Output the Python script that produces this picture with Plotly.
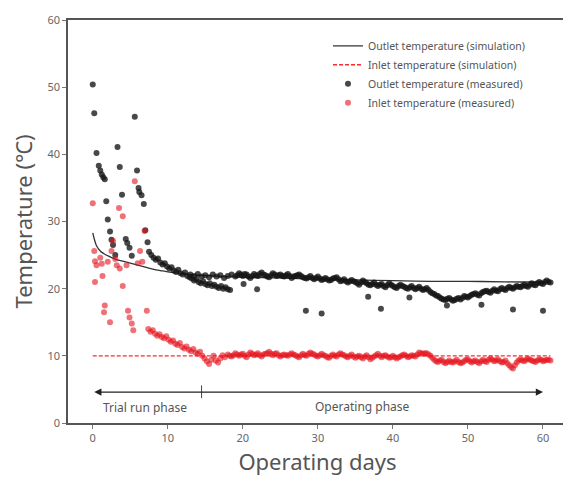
import plotly.graph_objects as go

# ---------------- data ----------------
# Simulated outlet temperature
sim_out_days = [0, 0.25, 0.5, 1, 1.5, 2, 3, 4, 5, 6, 7, 8, 9, 10, 12, 14, 16, 20, 25, 30, 35, 40, 45, 50, 55, 61]
sim_out_temp = [28.3, 27.2, 26.4, 25.6, 25.2, 24.9, 24.4, 24.1, 23.8, 23.5, 23.2, 22.9, 22.7, 22.5, 22.2, 22.0, 21.9, 21.7, 21.6, 21.4, 21.3, 21.2, 21.1, 21.1, 21.0, 21.0]

# Simulated inlet temperature
sim_in_days = [0, 61]
sim_in_temp = [10.0, 10.0]

# Measured outlet temperature (readings)
out_days = [0.0, 0.2, 0.5, 0.8, 1.0, 1.2, 1.4, 1.6, 1.8, 2.0, 2.3, 2.5, 2.7, 3.0, 3.3, 3.6, 3.9, 4.4, 4.6, 4.9, 5.2, 5.6, 5.9, 6.1, 6.2, 6.5, 6.8, 7.0, 7.3, 7.5,
            7.8, 8.1, 8.4, 8.7, 9.0, 9.3, 9.6, 9.9, 10.2, 10.5, 10.8, 11.1, 11.4, 11.7, 12.0, 12.3, 12.6, 12.9, 13.2, 13.5, 13.8, 14.1, 14.4, 14.7,
            15.0, 15.3, 15.6, 15.9, 16.2, 16.5, 16.8, 17.1, 17.4, 17.7, 18.0, 18.3,
            13.0, 13.5, 14.0, 14.5, 15.0, 15.5, 16.0, 16.5, 17.0, 17.5, 18.0, 18.5,
            19.0, 19.5, 20.0, 20.5, 21.0, 21.5, 22.0, 22.5, 23.0, 23.5, 24.0, 24.5, 25.0, 25.5, 26.0, 26.5, 27.0, 27.5, 28.0, 28.5,
            29.0, 29.5, 30.0, 30.5, 31.0, 31.5, 32.0, 32.5, 33.0, 33.5, 34.0, 34.5, 35.0, 35.5, 36.0, 36.5, 37.0, 37.5, 38.0, 38.5,
            39.0, 39.5, 40.0, 40.5, 41.0, 41.5, 42.0, 42.5, 43.0, 43.5, 44.0, 44.5, 45.0, 45.5, 46.0, 46.5, 47.0, 47.5, 48.0, 48.5,
            49.0, 49.5, 50.0, 50.5, 51.0, 51.5, 52.0, 52.5, 53.0, 53.5, 54.0, 54.5, 55.0, 55.5, 56.0, 56.5, 57.0, 57.5, 58.0, 58.5,
            59.0, 59.5, 60.0, 60.5, 61.0,
            20.1, 21.9, 28.4, 30.5, 36.7, 38.4, 42.2, 47.2, 51.8, 56.0, 60.0]
out_temp = [50.4, 46.1, 40.2, 38.3, 37.6, 37.0, 36.6, 36.3, 33.0, 30.3, 28.5, 27.3, 26.5, 25.0, 41.1, 38.1, 34.0, 27.4, 26.8, 26.1, 24.9, 45.6, 37.6, 35.0, 34.4, 33.9, 32.6, 28.7, 26.9, 25.5,
            25.0, 24.6, 24.3, 24.5, 23.9, 23.6, 23.8, 23.3, 23.0, 23.2, 22.7, 22.5, 22.8, 22.3, 22.1, 22.4, 21.9, 21.7, 21.5, 21.2, 21.4, 21.0, 20.8, 21.1,
            20.7, 20.5, 20.8, 20.4, 20.6, 20.3, 20.1, 20.4, 20.0, 20.2, 19.9, 19.8,
            22.1, 21.9, 22.2, 21.8, 22.0, 21.7, 22.1, 21.8, 22.0, 21.6, 21.9, 22.1,
            21.8, 22.3, 21.9, 22.1, 21.6, 22.2, 21.9, 22.4, 22.0, 21.7, 22.3, 21.9, 22.1, 21.8, 22.2, 21.6, 21.9, 22.1, 21.7, 21.5,
            21.9, 21.4, 21.8, 21.3, 21.6, 21.2, 21.5, 21.7, 21.1, 21.4, 20.9, 21.3, 21.0, 20.6, 21.2, 20.8, 20.5, 20.9, 20.4, 20.7,
            20.2, 20.8, 20.4, 20.1, 20.6, 20.3, 20.0, 20.4, 19.9, 20.3, 19.8, 20.1, 19.5, 19.2, 18.9, 18.5, 18.3, 18.6, 18.2, 18.5,
            18.4, 18.9, 18.7, 19.1, 19.3, 19.0, 19.5, 19.7, 19.4, 19.9, 19.6, 20.1, 19.8, 20.3, 20.0, 20.4, 20.2, 20.6, 20.3, 20.8,
            20.5, 21.0, 20.7, 21.2, 20.9,
            20.7, 19.9, 16.7, 16.3, 18.8, 17.0, 18.7, 17.5, 17.6, 16.9, 16.7]

# Measured outlet temperature (intermediate readings)
out_days_b = [19.25, 19.75, 20.25, 20.75, 21.25, 21.75, 22.25, 22.75, 23.25, 23.75, 24.25, 24.75, 25.25, 25.75, 26.25, 26.75, 27.25, 27.75, 28.25, 28.75,
              29.25, 29.75, 30.25, 30.75, 31.25, 31.75, 32.25, 32.75, 33.25, 33.75, 34.25, 34.75, 35.25, 35.75, 36.25, 36.75, 37.25, 37.75, 38.25, 38.75,
              39.25, 39.75, 40.25, 40.75, 41.25, 41.75, 42.25, 42.75, 43.25, 43.75, 44.25, 44.75, 45.25, 45.75, 46.25, 46.75, 47.25, 47.75, 48.25, 48.75,
              49.25, 49.75, 50.25, 50.75, 51.25, 51.75, 52.25, 52.75, 53.25, 53.75, 54.25, 54.75, 55.25, 55.75, 56.25, 56.75, 57.25, 57.75, 58.25, 58.75,
              59.25, 59.75, 60.25, 60.75]
out_temp_b = [22.0, 22.1, 22.2, 21.8, 21.9, 22.0, 22.2, 22.1, 21.8, 22.0, 22.1, 22.0, 21.9, 22.0, 21.9, 21.8, 22.0, 21.9, 21.6, 21.7,
              21.6, 21.6, 21.5, 21.4, 21.4, 21.3, 21.6, 21.4, 21.2, 21.1, 21.1, 21.1, 20.8, 20.9, 21.0, 20.6, 20.7, 20.6, 20.6, 20.4,
              20.5, 20.6, 20.2, 20.4, 20.4, 20.1, 20.2, 20.1, 20.1, 20.0, 19.9, 19.8, 19.3, 19.0, 18.7, 18.4, 18.5, 18.4, 18.3, 18.6,
              18.6, 18.8, 18.9, 19.2, 19.1, 19.3, 19.6, 19.5, 19.7, 19.7, 19.9, 19.9, 20.1, 20.1, 20.2, 20.3, 20.4, 20.4, 20.6, 20.6,
              20.8, 20.8, 21.0, 21.0]

# Measured inlet temperature (readings)
in_days = [0.0, 0.2, 0.3, 0.3, 0.5, 1.0, 1.2, 1.3, 1.5, 1.6, 2.0, 2.3, 2.5, 2.7, 3.0, 3.2, 3.5, 3.6, 4.0, 4.0, 4.5, 4.7, 4.9, 5.2, 5.4, 5.6, 6.0, 6.3, 6.6, 6.9, 7.2,
           7.4, 7.7, 8.0, 8.3, 8.6, 8.9, 9.2, 9.5, 9.8, 10.1, 10.4, 10.7, 11.0, 11.3, 11.6, 11.9, 12.2, 12.5, 12.8, 13.1, 13.4, 13.7, 14.0, 14.3,
           14.6, 14.9, 15.2, 15.5, 15.8, 16.1, 16.4, 16.7, 17.0, 17.3, 17.6,
           18.0, 18.5, 19.0, 19.5, 20.0, 20.5, 21.0, 21.5, 22.0, 22.5, 23.0, 23.5, 24.0, 24.5, 25.0, 25.5, 26.0, 26.5, 27.0, 27.5,
           28.0, 28.5, 29.0, 29.5, 30.0, 30.5, 31.0, 31.5, 32.0, 32.5, 33.0, 33.5, 34.0, 34.5, 35.0, 35.5, 36.0, 36.5, 37.0, 37.5,
           38.0, 38.5, 39.0, 39.5, 40.0, 40.5, 41.0, 41.5, 42.0, 42.5, 43.0, 43.5, 44.0, 44.5, 45.0, 45.5, 46.0, 46.5, 47.0, 47.5,
           48.0, 48.5, 49.0, 49.5, 50.0, 50.5, 51.0, 51.5, 52.0, 52.5, 53.0, 53.5, 54.0, 54.5, 55.0, 55.5, 56.0, 56.5, 57.0, 57.5,
           58.0, 58.5, 59.0, 59.5, 60.0, 60.5, 61.0]
in_temp = [32.7, 25.6, 24.1, 21.0, 23.5, 24.6, 23.7, 21.9, 16.5, 17.5, 24.0, 15.0, 25.6, 27.1, 24.4, 23.5, 32.0, 23.0, 30.8, 20.4, 23.5, 16.7, 15.7, 14.8, 13.8, 36.0, 23.8, 25.6, 24.0, 28.6, 16.7,
           14.0, 13.6, 13.8, 13.3, 13.0, 13.2, 12.8, 12.6, 12.9, 12.4, 12.1, 12.3, 11.8, 11.6, 11.9, 11.3, 11.1, 11.4, 10.9, 10.7, 11.0, 10.5, 10.3, 10.6,
           10.0, 9.6, 9.2, 8.8, 9.4, 10.0, 9.3, 9.0, 9.6, 10.1, 9.8,
           10.2, 9.9, 10.4, 10.0, 10.3, 9.8, 10.5, 10.1, 10.4, 9.9, 10.3, 10.6, 10.1, 10.4, 9.9, 10.2, 10.0, 10.4, 10.1, 9.8,
           10.3, 10.0, 10.5, 10.2, 9.9, 10.3, 10.0, 9.7, 10.2, 9.9, 10.4, 10.1, 9.8, 10.2, 9.7, 10.0, 9.6, 10.1, 9.5, 9.9,
           10.3, 9.8, 10.1, 9.7, 10.0, 9.6, 9.9, 10.2, 9.8, 10.1, 9.9, 10.5, 10.3, 10.4, 10.0, 9.4, 9.1, 9.4, 8.9, 9.3,
           9.0, 9.4, 8.9, 9.2, 9.5, 9.0, 9.3, 8.9, 9.4, 9.1, 9.6, 9.2, 9.5, 9.0, 9.3, 8.6, 8.1, 9.0, 9.5, 9.2,
           9.6, 9.3, 9.1, 9.5, 9.2, 9.4, 9.3]

# Measured inlet temperature (intermediate readings)
in_days_b = [18.25, 18.75, 19.25, 19.75, 20.25, 20.75, 21.25, 21.75, 22.25, 22.75, 23.25, 23.75, 24.25, 24.75, 25.25, 25.75, 26.25, 26.75, 27.25, 27.75,
             28.25, 28.75, 29.25, 29.75, 30.25, 30.75, 31.25, 31.75, 32.25, 32.75, 33.25, 33.75, 34.25, 34.75, 35.25, 35.75, 36.25, 36.75, 37.25, 37.75,
             38.25, 38.75, 39.25, 39.75, 40.25, 40.75, 41.25, 41.75, 42.25, 42.75, 43.25, 43.75, 44.25, 44.75, 45.25, 45.75, 46.25, 46.75, 47.25, 47.75,
             48.25, 48.75, 49.25, 49.75, 50.25, 50.75, 51.25, 51.75, 52.25, 52.75, 53.25, 53.75, 54.25, 54.75, 55.25, 55.75, 56.25, 56.75, 57.25, 57.75,
             58.25, 58.75, 59.25, 59.75, 60.25, 60.75]
in_temp_b = [10.0, 10.1, 10.2, 10.2, 10.0, 10.2, 10.3, 10.2, 10.1, 10.2, 10.4, 10.3, 10.3, 10.1, 10.1, 10.1, 10.2, 10.2, 9.9, 10.1,
             10.1, 10.3, 10.3, 10.0, 10.1, 10.1, 9.8, 10.0, 10.0, 10.2, 10.2, 9.9, 10.0, 9.9, 9.9, 9.8, 9.9, 9.8, 9.7, 10.1,
             10.0, 10.0, 9.9, 9.8, 9.8, 9.8, 10.1, 10.0, 9.9, 10.0, 10.2, 10.4, 10.4, 10.2, 9.7, 9.2, 9.3, 9.1, 9.1, 9.1,
             9.2, 9.1, 9.0, 9.4, 9.2, 9.2, 9.1, 9.2, 9.2, 9.4, 9.4, 9.3, 9.2, 9.1, 8.9, 8.3, 8.6, 9.3, 9.3, 9.4,
             9.4, 9.2, 9.3, 9.4, 9.3, 9.4]

x_ticks = [0, 10, 20, 30, 40, 50, 60]
y_ticks = [0, 10, 20, 30, 40, 50, 60]

FONT = "Noto Sans"

fig = go.Figure()

fig.add_trace(go.Scatter(
    x=sim_out_days, y=sim_out_temp, mode="lines", line_shape="spline",
    line=dict(color="#333333", width=1.3),
    name="Outlet temperature (simulation)"))
fig.add_trace(go.Scatter(
    x=sim_in_days, y=sim_in_temp, mode="lines",
    line=dict(color="#ff2a2a", width=1.4, dash="4px,2px"),
    name="Inlet temperature (simulation)"))
fig.add_trace(go.Scatter(
    x=out_days + out_days_b, y=out_temp + out_temp_b, mode="markers",
    marker=dict(color="rgba(20,20,20,0.78)", size=6, line=dict(width=0)),
    name="Outlet temperature (measured)"))
fig.add_trace(go.Scatter(
    x=in_days + in_days_b, y=in_temp + in_temp_b, mode="markers",
    marker=dict(color="rgba(228,18,28,0.6)", size=6, line=dict(width=0)),
    name="Inlet temperature (measured)"))

# phase arrow
fig.add_annotation(x=60, y=4.6, ax=0, ay=4.6, xref="x", yref="y", axref="x", ayref="y",
                   text="", showarrow=True, arrowhead=2, startarrowhead=2, arrowside="end+start",
                   arrowsize=1.1, startarrowsize=1.1, arrowwidth=1.3, arrowcolor="#222222")
fig.add_shape(type="line", x0=14.5, x1=14.5, y0=3.7, y1=5.6, xref="x", yref="y",
              line=dict(color="#444444", width=1))
fig.add_annotation(x=7.0, y=2.3, xref="x", yref="y", text="Trial run phase", showarrow=False,
                   font=dict(family=FONT, size=12, color="#555555"))
fig.add_annotation(x=35.9, y=2.5, xref="x", yref="y", text="Operating phase", showarrow=False,
                   font=dict(family=FONT, size=12, color="#555555"))
# faint right frame
fig.add_shape(type="line", x0=1, x1=1, y0=0, y1=1, xref="paper", yref="paper",
              line=dict(color="#d0d0d0", width=1))

# page body has an 8px default margin, so the figure is sized to fit the window after it
fig.update_layout(
    width=563, height=481,
    margin=dict(l=60, r=4, t=10, b=66),
    paper_bgcolor="white", plot_bgcolor="white",
    font=dict(family=FONT, color="#555555"),
    showlegend=True,
    legend=dict(x=0.521, y=0.972, xanchor="left", yanchor="top",
                bgcolor="rgba(0,0,0,0)", font=dict(family=FONT, size=10.5, color="#555555"),
                tracegroupgap=0, itemwidth=30),
    xaxis=dict(range=[-3.3, 63.2], tickvals=x_ticks, ticks="outside", ticklen=4, tickcolor="#777777",
               showline=True, linecolor="#555555", linewidth=1.5, mirror=True, showgrid=False, zeroline=False,
               tickfont=dict(family=FONT, size=11, color="#666666"),
               title=dict(text="Operating days", font=dict(family=FONT, size=22, color="#555555"), standoff=11)),
    yaxis=dict(range=[0, 60], tickvals=y_ticks, ticks="outside", ticklen=4, tickcolor="#777777",
               showline=True, linecolor="#555555", linewidth=1.5, showgrid=False, zeroline=False,
               tickfont=dict(family=FONT, size=11, color="#666666"),
               title=dict(text="Temperature (℃)", font=dict(family=FONT, size=22, color="#555555"), standoff=16)),
)

fig.write_html("out.html")
